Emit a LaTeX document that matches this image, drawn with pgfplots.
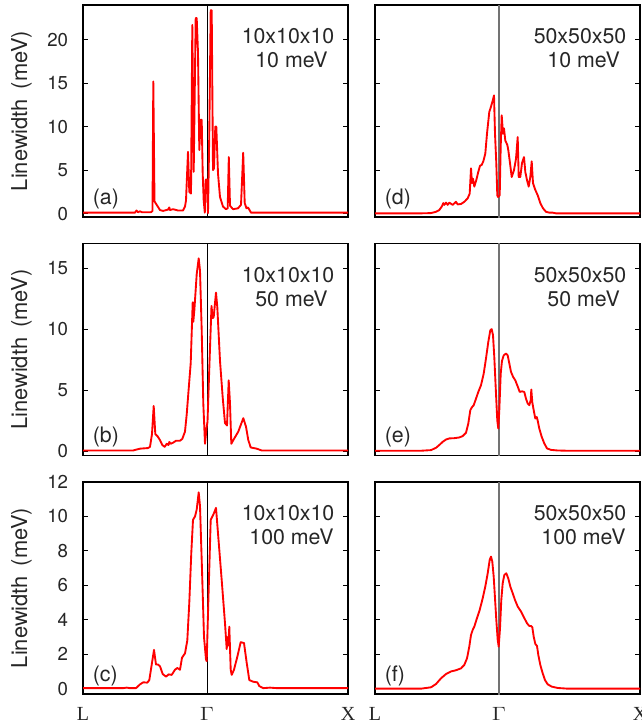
\documentclass[border=0pt]{standalone}
\usepackage{fontspec}
\setmainfont{TeX Gyre Heros}
\newfontfamily\seriffont{Liberation Serif}
\usepackage{graphicx}
\usepackage{pgfplots}
\pgfplotsset{compat=1.18}
\definecolor{txt}{gray}{0.15}
\definecolor{gline}{gray}{0.45}
\pgfplotsset{
  panel/.style={
    width=198.75pt, height=159pt, scale only axis,
    xmin=0, xmax=265, xtick=\empty,
    anchor=south west,
    axis line style={line width=0.9pt, black},
    major tick length=3.75pt,
    ytick style={line width=0.75pt, black},
    xtick style={draw=none},
    tick label style={font=\fontsize{14}{16}\selectfont, text=txt},
    /pgf/number format/assume math mode=true,
    yticklabel style={inner sep=0pt, xshift=-11pt},
    every axis y label/.style={at={(axis description cs:-0.232,0.5)}, rotate=90, anchor=center, font=\fontsize{16.4}{18}\selectfont, text=txt},
    clip=true,
  },
  leftcol/.style={panel, ylabel={Linewidth\hspace{0.45em}(meV)}},
  rightcol/.style={panel, yticklabels={}},
  bottomrow/.style={xtick={0,124,265}, xticklabels={L,\scalebox{1.2}[1]{$\Gamma$},X},
    xticklabel style={font=\seriffont\fontsize{15}{16}\selectfont, inner sep=0pt, yshift=-10pt, anchor=north}},
  curve/.style={red, line width=1.4pt, line join=round},
  gl/.style={black, line width=0.75pt},
  gr/.style={gline, line width=1.5pt},
}
\newcommand{\annot}[3]{%
  \node[anchor=base, font=\fontsize{16}{18}\selectfont, text=txt] at (rel axis cs:0.7736,0.819) {#1};
  \node[anchor=base, font=\fontsize{16}{18}\selectfont, text=txt] at (rel axis cs:0.787,0.703) {#2};
  \node[anchor=base west, font=\fontsize{16}{18}\selectfont, text=txt, inner sep=0pt] at (rel axis cs:0.036,0.061) {#3};
}
\begin{document}
\begin{tikzpicture}
\useasboundingbox (0,0) rectangle (481.5pt,-543.75pt);
% ---------------- (a)
\begin{axis}[leftcol, at={(62.25pt,-162.75pt)}, ymin=-0.4, ymax=24, ytick={0,5,10,15,20}]
\addplot[gl] coordinates {(124,-1) (124,30)};
\addplot[curve] coordinates {(0,0.1) (52,0.1) (53.5,0.35) (55,0.15) (57,0.25) (59,0.15) (68,0.15) (69.5,0.3) (70.3,15.2) (71.5,1.4) (73.7,1.0) (77,0.4) (80,0.3) (85,0.45) (86.3,0.7) (87,0.4) (90,0.5) (95,0.35) (100,0.35) (102,0.8) (103,1.5) (105,7.1) (106.3,2.5) (108,2.3) (109.3,21.7) (110.7,4.8) (112.7,22.5) (113.7,22.5) (115,18.5) (116.3,7.3) (117.7,10.8) (118.7,10.8) (119.7,4.6) (120.7,1.5) (121.8,0.1) (122.7,3.9) (124,3.9) (125,0.05) (126.3,9.3) (127.7,23.4) (128.7,23.4) (130,5.0) (131,5.2) (132.3,10) (133.3,10) (135,4.6) (137,1.9) (140,0.8) (143,0.5) (144.7,0.6) (145.8,6.5) (147,0.9) (150,0.5) (155,0.6) (158,1.0) (160.2,7.0) (161.7,1.2) (163.5,0.6) (165,0.7) (166.3,0.45) (168,0.1) (175,0.1) (265,0.1)};
\annot{10x10x10}{10 meV}{(a)}
\end{axis}
% ---------------- (d)
\begin{axis}[rightcol, at={(281.25pt,-162.75pt)}, ymin=-0.4, ymax=24, ytick={0,5,10,15,20}]
\addplot[gr] coordinates {(124,-1) (124,30)};
\addplot[curve] coordinates {(0,0.02) (46,0.02) (56,0.05) (61,0.2) (64.3,0.4) (67,0.85) (68.3,1.2) (69.3,1.0) (71,1.25) (72.7,1.0) (74.3,1.25) (77.7,1.0) (81,1.35) (82.7,1.05) (86,1.1) (89.3,1.35) (92.7,1.75) (94.7,2.3) (96,5.2) (97,3.5) (98,4.0) (99.3,3.1) (101.3,3.85) (103.3,4.8) (105,5.5) (106.7,5.6) (108.3,6.0) (110.3,6.9) (112,9.2) (114.3,11.7) (116,12.3) (117.7,13.0) (119,13.6) (120,9.2) (121.3,5.8) (122.3,2.1) (123,1.9) (124.7,2.1) (125.7,7.7) (126.7,11.3) (128,9.2) (129,9.8) (130.3,8.4) (132.3,7.9) (133.3,7.3) (135,5.8) (136.7,4.2) (139,5.0) (141,6.3) (142.7,8.8) (143.7,4.2) (145.3,4.2) (147,5.8) (149,6.5) (150.3,4.8) (152,3.85) (153.7,3.1) (155.3,4.2) (156.7,6.0) (158,3.5) (160,2.8) (162.7,2.1) (165.3,1.2) (168,0.6) (171,0.2) (174.3,0.1) (177.7,0.1) (181,0.02) (265,0.02)};
\annot{50x50x50}{10 meV}{(d)}
\end{axis}
% ---------------- (b)
\begin{axis}[leftcol, at={(62.25pt,-341.8pt)}, ymin=-0.38, ymax=17, ytick={0,5,10,15}]
\addplot[gl] coordinates {(124,-1) (124,30)};
\addplot[curve] coordinates {(0,0.05) (50,0.05) (57,0.2) (65,0.25) (67,0.35) (69,1.4) (70.7,3.7) (72.3,1.4) (74.7,1.2) (77,0.9) (79.3,0.5) (81.7,0.35) (83.7,0.6) (85.5,0.5) (86.3,0.75) (87.7,0.6) (90.3,0.7) (93,0.85) (97,0.85) (99.3,1.0) (102,1.6) (103.7,3.0) (105.3,4.7) (107.7,7.2) (109.7,12.2) (110.3,10.6) (111.3,11.5) (113.7,14.5) (115.7,15.8) (117,14.8) (118.7,9.9) (120.3,3.9) (122,0.6) (123.7,2.0) (124.5,2.4) (126.3,6.8) (128.5,11.9) (129.7,10.9) (130.7,11.0) (133,13.0) (134.3,11.8) (137,7.4) (139.7,4.4) (142,2.3) (144,2.1) (145.7,5.8) (147,3.9) (148.3,0.6) (150.3,0.9) (155.3,1.6) (160.3,2.7) (163,2.0) (165.3,0.9) (167.7,0.3) (173.7,0.2) (178.7,0.05) (265,0.05)};
\annot{10x10x10}{50 meV}{(b)}
\end{axis}
% ---------------- (e)
\begin{axis}[rightcol, at={(281.25pt,-341.8pt)}, ymin=-0.38, ymax=17, ytick={0,5,10,15}]
\addplot[gr] coordinates {(124,-1) (124,30)};
\addplot[curve] coordinates {(0,0.03) (46,0.03) (56,0.08) (61,0.27) (64.3,0.5) (67.7,0.76) (71,0.95) (74.3,1.04) (79.3,1.06) (84.3,1.12) (87.7,1.23) (91,1.5) (93.3,2.26) (95.3,3.35) (96.7,3.57) (98.7,3.76) (101,4.3) (103.3,4.85) (106,5.4) (108.7,6.35) (111,7.6) (113.3,8.95) (115.3,9.9) (116.7,10.0) (118,9.5) (119.3,7.7) (121,4.7) (122.3,2.5) (123.3,1.85) (124.3,3.35) (125.7,6.35) (127,7.4) (128.7,7.85) (131,8.0) (132.7,7.85) (134.3,7.2) (136,6.5) (138,6.1) (140.3,5.8) (142.7,5.3) (144.7,4.85) (147,4.9) (149.3,4.85) (151,4.3) (152.7,3.9) (154.3,3.76) (155.7,4.17) (156.3,5.05) (157.3,4.0) (158.7,3.35) (160.3,2.67) (161.7,2.8) (162.7,2.5) (164.3,1.85) (166.7,1.17) (169.3,0.63) (172,0.22) (176,0.1) (182.7,0.05) (192.7,0.03) (265,0.03)};
\annot{50x50x50}{50 meV}{(e)}
\end{axis}
% ---------------- (c)
\begin{axis}[leftcol, bottomrow, at={(62.25pt,-520.5pt)}, ymin=-0.31, ymax=12, ytick={0,2,4,6,8,10,12}]
\addplot[gl] coordinates {(124,-1) (124,30)};
\addplot[curve] coordinates {(0,0.03) (40,0.03) (43.7,0.06) (47,0.03) (53,0.03) (57,0.25) (60.3,0.37) (64.3,0.35) (66.3,0.5) (69,1.5) (71,2.25) (73,1.4) (75,1.4) (77,1.3) (79.7,0.85) (83,0.7) (85.7,0.83) (88.7,0.8) (92,1.1) (94.3,1.2) (97,1.1) (99,1.8) (102,2.05) (104.3,2.8) (106.3,5.0) (108.3,7.9) (110,9.8) (112,10.0) (113.7,10.4) (115.7,11.4) (117,10.6) (119,6.9) (121,3.0) (123,1.7) (123.7,1.6) (125.3,5.0) (127.7,9.8) (130.3,10.1) (133,10.5) (135.3,8.8) (138.7,6.3) (142,3.8) (143.7,2.3) (144.7,3.0) (145.3,2.5) (146.3,3.6) (147.7,1.1) (148.7,0.8) (151,1.1) (154.3,1.85) (157.7,2.7) (161,2.65) (163.7,1.5) (166.3,0.5) (170.3,0.4) (174.3,0.37) (176.3,0.15) (180.3,0.03) (187,0.06) (194,0.03) (265,0.03)};
\annot{10x10x10}{100 meV}{(c)}
\end{axis}
% ---------------- (f)
\begin{axis}[rightcol, bottomrow, at={(281.25pt,-520.5pt)}, ymin=-0.31, ymax=12, ytick={0,2,4,6,8,10,12}]
\addplot[gr] coordinates {(124,-1) (124,30)};
\addplot[curve] coordinates {(0,0.0) (46,0.0) (56,0.08) (61,0.27) (66,0.6) (71,0.85) (76,1.0) (81,1.07) (86,1.18) (89.3,1.38) (92,1.76) (94.3,2.44) (96,3.12) (97.7,3.41) (99.3,3.6) (102,4.1) (104.7,4.57) (107.7,5.25) (110.3,5.93) (112.7,6.7) (114.7,7.48) (116,7.67) (117.3,7.38) (118.7,6.5) (120,5.25) (121.3,4.0) (122.7,2.83) (123.7,2.44) (125,3.5) (126.3,5.15) (127.7,6.12) (129.3,6.6) (131.3,6.7) (133.3,6.4) (135.3,5.93) (137.7,5.54) (140,5.15) (142.7,4.77) (146,4.48) (149.3,4.1) (152,3.8) (154.3,3.64) (156,3.64) (157.3,3.57) (158.7,3.02) (160.3,2.6) (162,2.48) (163.3,1.96) (165.3,1.38) (167.7,0.89) (170,0.5) (172.7,0.25) (176.7,0.12) (182.7,0.04) (192.7,0.0) (265,0.0)};
\annot{50x50x50}{100 meV}{(f)}
\end{axis}
\end{tikzpicture}
\end{document}
